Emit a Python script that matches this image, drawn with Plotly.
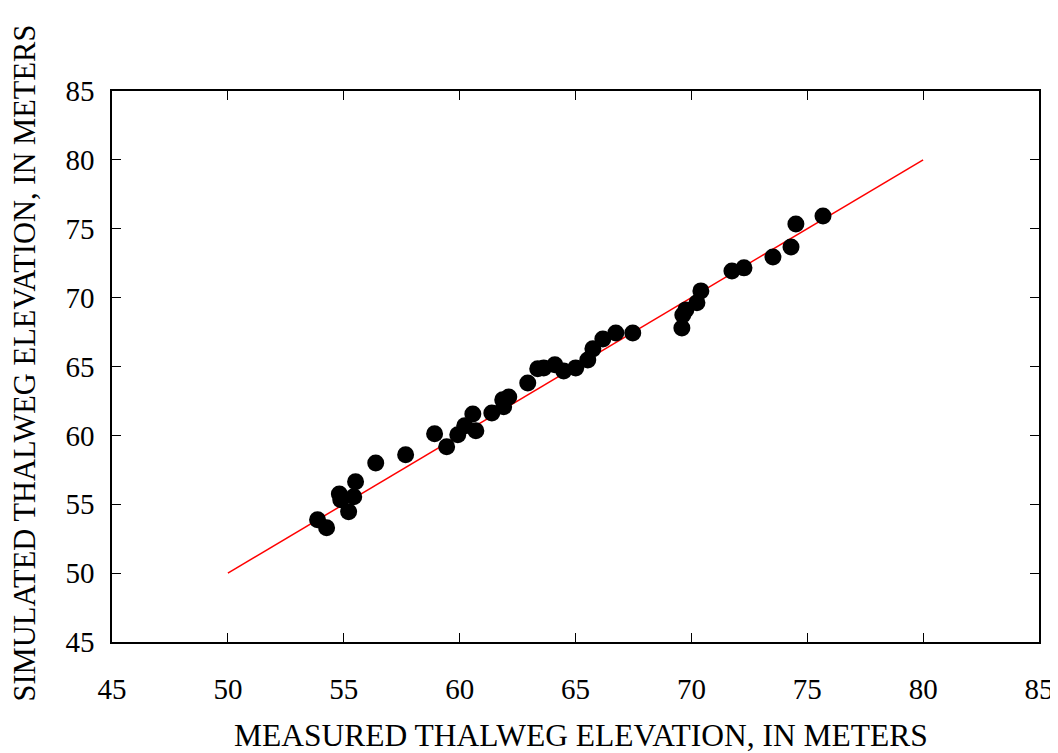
import plotly.graph_objects as go

measured = [53.87, 54.26, 54.81, 54.87, 55.43, 55.21, 55.51, 56.38, 57.67, 58.92,
            59.44, 59.92, 60.22, 60.57, 60.70, 61.39, 61.86, 61.90, 62.12, 62.94,
            63.37, 63.63, 64.11, 64.49, 65.01, 65.53, 65.75, 66.18, 66.74, 67.47,
            69.59, 69.63, 69.76, 70.24, 70.41, 71.75, 72.27, 73.52, 74.30, 74.51,
            75.68]
simulated = [53.87, 53.29, 55.75, 55.32, 55.54, 54.45, 56.63, 58.00, 58.59, 60.11,
             59.17, 60.04, 60.69, 61.56, 60.33, 61.63, 62.58, 62.07, 62.79, 63.81,
             64.83, 64.90, 65.12, 64.68, 64.90, 65.48, 66.28, 67.00, 67.44, 67.44,
             67.80, 68.74, 69.11, 69.62, 70.49, 71.94, 72.16, 72.95, 73.68, 75.35,
             75.93]
line_x = [50, 80]
line_y = [50, 80]
ticks = [45, 50, 55, 60, 65, 70, 75, 80, 85]
x_title = "MEASURED THALWEG ELEVATION, IN METERS"
y_title = "SIMULATED THALWEG ELEVATION, IN METERS"

fig = go.Figure()
fig.add_trace(go.Scatter(x=line_x, y=line_y, mode="lines",
                         line=dict(color="#ff0000", width=1.5), showlegend=False))
fig.add_trace(go.Scatter(x=measured, y=simulated, mode="markers",
                         marker=dict(color="black", size=17), showlegend=False))

axis_common = dict(range=[45, 85], tickvals=ticks, ticks="inside", ticklen=9,
                   tickcolor="black", tickwidth=1, showline=True, linecolor="black",
                   linewidth=1.5, mirror="ticks", showgrid=False, zeroline=False,
                   automargin=False, tickfont=dict(size=29, color="black"))
fig.update_xaxes(**axis_common, ticklabelstandoff=20)
fig.update_yaxes(**axis_common, ticklabelstandoff=10)
fig.add_annotation(text=x_title, xref="paper", yref="paper", x=0.506, y=-0.169,
                   xanchor="center", yanchor="middle", showarrow=False,
                   font=dict(size=31.5, color="black"))
fig.add_annotation(text=y_title, xref="paper", yref="paper", x=-0.094, y=0.507,
                   xanchor="center", yanchor="middle", showarrow=False, textangle=-90,
                   font=dict(size=30.5, color="black"))
fig.update_layout(width=1050, height=745, plot_bgcolor="white", paper_bgcolor="white",
                  margin=dict(l=104, r=19, t=83, b=111),
                  font=dict(family="Liberation Serif, Times New Roman, serif", color="black"))
fig.write_html("out.html")
